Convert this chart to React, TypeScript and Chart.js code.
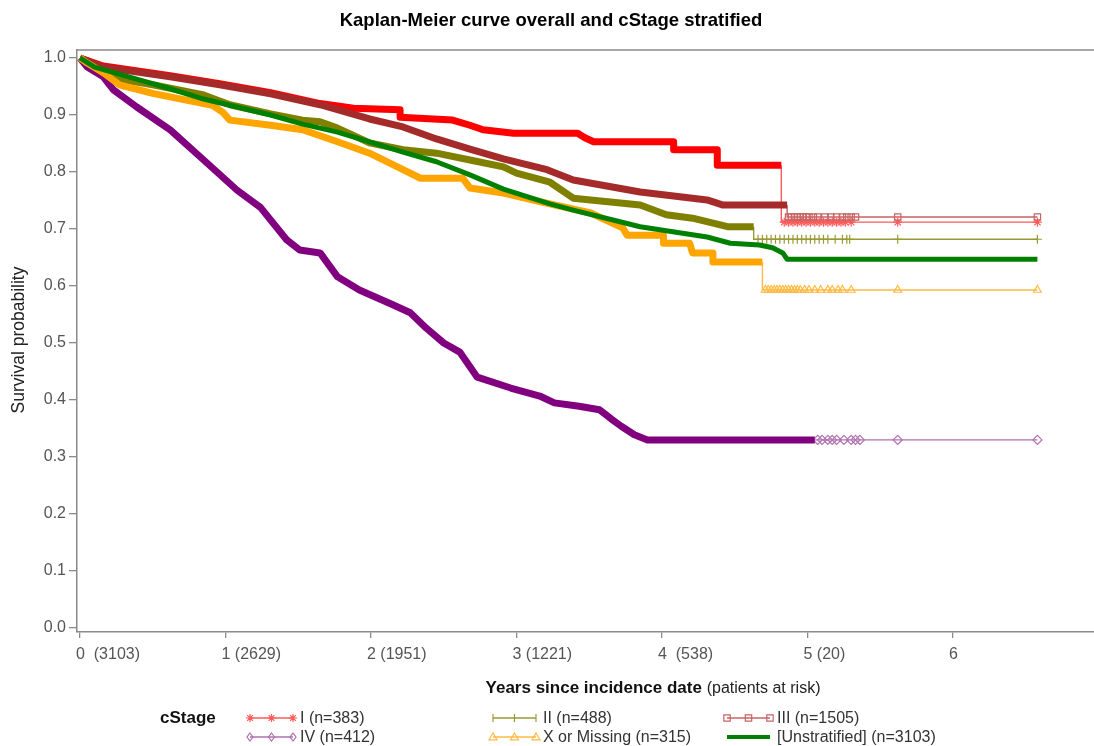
import React, { useEffect, useRef } from "react";
import { Chart, registerables } from "chart.js";

Chart.register(...registerables);

// ---------- text ----------
const chartTitle = "Kaplan-Meier curve overall and cStage stratified";
const yAxisTitle = "Survival probability";
const xAxisTitleMain = "Years since incidence date";
const xAxisTitleSub = "(patients at risk)";
const legendTitle = "cStage";

// ---------- ticks ----------
const xTickYears = [0, 1, 2, 3, 4, 5, 6, 7];
const xTickLabels = ["0  (3103)", "1 (2629)", "2 (1951)", "3 (1221)", "4  (538)", "5 (20)", "6", "7"];
const yTickValues = [0, 0.1, 0.2, 0.3, 0.4, 0.5, 0.6, 0.7, 0.8, 0.9, 1.0];

// ---------- series: cStage I ----------
const stageI_t = [0, 0.16, 0.62, 0.96, 1.31, 1.65, 1.88, 2.2, 2.2, 2.56, 2.68, 2.77, 2.98, 3.42, 3.47, 3.53, 4.08, 4.08, 4.38, 4.38, 4.82];
const stageI_s = [1.0, 0.986, 0.969, 0.955, 0.939, 0.92, 0.912, 0.909, 0.896, 0.891, 0.882, 0.874, 0.868, 0.868, 0.86, 0.853, 0.853, 0.839, 0.839, 0.812, 0.812];
const stageI_tailLevel = 0.712;
const stageI_censor = [4.84, 4.87, 4.9, 4.93, 4.96, 4.99, 5.02, 5.05, 5.08, 5.11, 5.14, 5.17, 5.2, 5.23, 5.26, 5.3, 5.62, 6.58];

// ---------- series: cStage II ----------
const stageII_t = [0, 0.1, 0.27, 0.5, 0.85, 1.03, 1.31, 1.53, 1.65, 1.77, 1.99, 2.22, 2.45, 2.68, 2.91, 3.0, 3.23, 3.39, 3.85, 4.03, 4.21, 4.45, 4.63];
const stageII_s = [1.0, 0.984, 0.963, 0.953, 0.935, 0.918, 0.902, 0.891, 0.888, 0.877, 0.851, 0.839, 0.833, 0.821, 0.809, 0.798, 0.782, 0.754, 0.742, 0.725, 0.719, 0.704, 0.704];
const stageII_tailLevel = 0.682;
const stageII_censor = [4.66, 4.69, 4.72, 4.75, 4.78, 4.81, 4.84, 4.87, 4.9, 4.93, 4.96, 4.99, 5.02, 5.05, 5.08, 5.11, 5.14, 5.19, 5.24, 5.27, 5.29, 5.62, 6.58];

// ---------- series: cStage III ----------
const stageIII_t = [0, 0.16, 0.62, 0.96, 1.31, 1.65, 1.99, 2.22, 2.45, 2.68, 2.91, 3.21, 3.39, 3.85, 4.31, 4.42, 4.86];
const stageIII_s = [1.0, 0.984, 0.967, 0.953, 0.937, 0.918, 0.893, 0.879, 0.858, 0.84, 0.823, 0.804, 0.786, 0.765, 0.751, 0.742, 0.742];
const stageIII_tailLevel = 0.721;
const stageIII_censor = [4.87, 4.89, 4.91, 4.93, 4.95, 4.97, 4.99, 5.01, 5.04, 5.07, 5.12, 5.16, 5.2, 5.24, 5.27, 5.3, 5.33, 5.62, 6.58];

// ---------- series: cStage IV ----------
const stageIV_t = [0, 0.05, 0.16, 0.23, 0.39, 0.62, 0.85, 1.08, 1.24, 1.42, 1.51, 1.65, 1.77, 1.92, 2.15, 2.27, 2.38, 2.5, 2.61, 2.73, 2.96, 3.16, 3.26, 3.43, 3.57, 3.65, 3.72, 3.81, 3.9, 5.05];
const stageIV_s = [1.0, 0.984, 0.967, 0.944, 0.914, 0.874, 0.821, 0.768, 0.738, 0.681, 0.663, 0.658, 0.616, 0.593, 0.567, 0.553, 0.526, 0.5, 0.484, 0.44, 0.421, 0.407, 0.395, 0.389, 0.383, 0.367, 0.354, 0.339, 0.33, 0.33];
const stageIV_tailLevel = 0.33;
const stageIV_censor = [5.07, 5.1, 5.14, 5.17, 5.2, 5.25, 5.3, 5.33, 5.36, 5.62, 6.58];

// ---------- series: X or Missing ----------
const stageX_t = [0, 0.05, 0.16, 0.27, 0.5, 0.73, 0.91, 0.98, 1.03, 1.31, 1.53, 1.77, 1.99, 2.22, 2.34, 2.63, 2.68, 2.91, 3.16, 3.51, 3.73, 3.76, 4.01, 4.01, 4.19, 4.21, 4.35, 4.35, 4.69];
const stageX_s = [1.0, 0.991, 0.974, 0.953, 0.938, 0.926, 0.917, 0.905, 0.891, 0.882, 0.874, 0.853, 0.833, 0.804, 0.789, 0.789, 0.772, 0.763, 0.748, 0.728, 0.702, 0.689, 0.689, 0.675, 0.675, 0.658, 0.658, 0.642, 0.642];
const stageX_tailLevel = 0.593;
const stageX_censor = [4.71, 4.73, 4.75, 4.77, 4.79, 4.81, 4.83, 4.85, 4.87, 4.89, 4.91, 4.93, 4.95, 4.98, 5.01, 5.05, 5.09, 5.14, 5.17, 5.21, 5.24, 5.3, 5.62, 6.58];

// ---------- series: unstratified ----------
const overall_t = [0, 0.1, 0.39, 0.62, 0.85, 1.08, 1.31, 1.53, 1.77, 1.99, 2.22, 2.45, 2.68, 2.91, 3.23, 3.39, 3.85, 4.31, 4.47, 4.67, 4.76, 4.83, 4.86, 6.58];
const overall_s = [1.0, 0.984, 0.963, 0.946, 0.928, 0.914, 0.9, 0.884, 0.87, 0.853, 0.835, 0.818, 0.795, 0.77, 0.744, 0.733, 0.704, 0.686, 0.675, 0.672, 0.667, 0.658, 0.647, 0.647];

// ---------- legend ----------
const legendLabels = ["I (n=383)", "IV (n=412)", "II (n=488)", "X or Missing (n=315)", "III (n=1505)", "[Unstratified] (n=3103)"];

const FONT = "'Liberation Sans', Arial, Helvetica, sans-serif";

type Strat = {
  t: number[];
  s: number[];
  tailLevel: number;
  censor: number[];
  band: string;
  thin: string;
  marker: string;
  order: number;
};

const strata: Strat[] = [
  { t: stageI_t, s: stageI_s, tailLevel: stageI_tailLevel, censor: stageI_censor, band: "#FF0000", thin: "#FF5A5A", marker: "star", order: 6 },
  { t: stageII_t, s: stageII_s, tailLevel: stageII_tailLevel, censor: stageII_censor, band: "#808000", thin: "#9A9A35", marker: "cross", order: 5 },
  { t: stageIII_t, s: stageIII_s, tailLevel: stageIII_tailLevel, censor: stageIII_censor, band: "#A52A2A", thin: "#C86464", marker: "rect", order: 4 },
  { t: stageIV_t, s: stageIV_s, tailLevel: stageIV_tailLevel, censor: stageIV_censor, band: "#800080", thin: "#B070B0", marker: "rectRot", order: 3 },
  { t: stageX_t, s: stageX_s, tailLevel: stageX_tailLevel, censor: stageX_censor, band: "#FFA500", thin: "#FFBA45", marker: "triangle", order: 2 },
];

function drawMarker(ctx: CanvasRenderingContext2D, style: string, x: number, y: number, r: number) {
  ctx.beginPath();
  if (style === "star") {
    for (let k = 0; k < 4; k++) {
      const a = (k * Math.PI) / 4;
      ctx.moveTo(x - Math.cos(a) * r, y - Math.sin(a) * r);
      ctx.lineTo(x + Math.cos(a) * r, y + Math.sin(a) * r);
    }
  } else if (style === "cross") {
    ctx.moveTo(x, y - r);
    ctx.lineTo(x, y + r);
  } else if (style === "rect") {
    ctx.rect(x - r * 0.8, y - r * 0.8, r * 1.6, r * 1.6);
  } else if (style === "rectRot") {
    ctx.moveTo(x, y - r);
    ctx.lineTo(x + r * 0.75, y);
    ctx.lineTo(x, y + r);
    ctx.lineTo(x - r * 0.75, y);
    ctx.closePath();
  } else if (style === "triangle") {
    ctx.moveTo(x, y - r);
    ctx.lineTo(x + r, y + r * 0.7);
    ctx.lineTo(x - r, y + r * 0.7);
    ctx.closePath();
  }
  ctx.stroke();
}

const decorPlugin = {
  id: "decor",
  afterDraw(chart: any) {
    const ctx: CanvasRenderingContext2D = chart.ctx;
    const area = chart.chartArea;
    const xs = chart.scales.x;
    ctx.save();
    // frame top
    ctx.strokeStyle = "#8a8a8a";
    ctx.lineWidth = 1.5;
    ctx.beginPath();
    ctx.moveTo(area.left, area.top);
    ctx.lineTo(area.right, area.top);
    ctx.stroke();

    // title
    ctx.fillStyle = "#000";
    ctx.font = `bold 18.5px ${FONT}`;
    ctx.textAlign = "center";
    ctx.textBaseline = "middle";
    ctx.fillText(chartTitle, 551, 21);

    // y title
    ctx.save();
    ctx.translate(19, 340);
    ctx.rotate(-Math.PI / 2);
    ctx.font = `17.5px ${FONT}`;
    ctx.fillStyle = "#222";
    ctx.fillText(yAxisTitle, 0, 0);
    ctx.restore();

    // x tick labels
    ctx.font = `16px ${FONT}`;
    ctx.fillStyle = "#555";
    ctx.textAlign = "left";
    ctx.textBaseline = "middle";
    xTickYears.forEach((v, i) => {
      const px = xs.getPixelForValue(v);
      ctx.fillText(xTickLabels[i], px - 4, 655);
    });

    // x title
    ctx.font = `bold 17px ${FONT}`;
    const w1 = ctx.measureText(xAxisTitleMain + " ").width;
    ctx.font = `16px ${FONT}`;
    const w2 = ctx.measureText(xAxisTitleSub).width;
    const startX = 653 - (w1 + w2) / 2;
    ctx.fillStyle = "#111";
    ctx.font = `bold 17px ${FONT}`;
    ctx.fillText(xAxisTitleMain, startX, 688);
    ctx.font = `16px ${FONT}`;
    ctx.fillStyle = "#222";
    ctx.fillText(xAxisTitleSub, startX + w1, 689);

    // legend
    ctx.font = `bold 17px ${FONT}`;
    ctx.fillStyle = "#111";
    ctx.fillText(legendTitle, 160, 718);
    const cols = [250, 493, 727];
    const rows = [718, 737];
    const legendItems = [
      { col: 0, row: 0, st: strata[0] },
      { col: 0, row: 1, st: strata[3] },
      { col: 1, row: 0, st: strata[1] },
      { col: 1, row: 1, st: strata[4] },
      { col: 2, row: 0, st: strata[2] },
      { col: 2, row: 1, st: null as Strat | null },
    ];
    legendItems.forEach((it, i) => {
      const x0 = cols[it.col];
      const y = rows[it.row];
      if (it.st) {
        ctx.strokeStyle = it.st.thin;
        ctx.lineWidth = 1.5;
        ctx.beginPath();
        ctx.moveTo(x0, y);
        ctx.lineTo(x0 + 43, y);
        ctx.stroke();
        ctx.lineWidth = 1.2;
        [x0, x0 + 21.5, x0 + 43].forEach((mx) => drawMarker(ctx, it.st!.marker, mx, y, 4));
      } else {
        ctx.strokeStyle = "#008000";
        ctx.lineWidth = 4;
        ctx.beginPath();
        ctx.moveTo(x0, y);
        ctx.lineTo(x0 + 43, y);
        ctx.stroke();
      }
      ctx.font = `16px ${FONT}`;
      ctx.fillStyle = "#333";
      ctx.fillText(legendLabels[i], x0 + 50, y + 1);
    });
    ctx.restore();
  },
};

export default function App() {
  const ref = useRef<HTMLCanvasElement | null>(null);

  useEffect(() => {
    if (!ref.current) return;
    const datasets: any[] = [];
    strata.forEach((st) => {
      datasets.push({
        type: "line",
        data: st.t.map((x, i) => ({ x, y: st.s[i] })),
        borderColor: st.band,
        borderWidth: 7,
        borderJoinStyle: "round",
        pointRadius: 0,
        fill: false,
        tension: 0,
        order: st.order,
      });
      const lastT = st.t[st.t.length - 1];
      const lastS = st.s[st.s.length - 1];
      datasets.push({
        type: "line",
        data: [{ x: lastT, y: lastS }, ...st.censor.map((x) => ({ x, y: st.tailLevel }))],
        borderColor: st.thin,
        borderWidth: 1.4,
        stepped: "after",
        pointStyle: st.marker,
        pointRadius: (c: any) => (c.dataIndex === 0 ? 0 : 4.5),
        pointBorderColor: st.thin,
        pointBackgroundColor: "rgba(0,0,0,0)",
        pointBorderWidth: 1.2,
        fill: false,
        order: st.order,
      });
    });
    datasets.push({
      type: "line",
      data: overall_t.map((x, i) => ({ x, y: overall_s[i] })),
      borderColor: "#008000",
      borderWidth: 5,
      borderJoinStyle: "round",
      pointRadius: 0,
      fill: false,
      tension: 0,
      order: 0,
    });

    const chart = new Chart(ref.current, {
      type: "line",
      data: { datasets },
      options: {
        animation: false,
        responsive: false,
        devicePixelRatio: 1,
        layout: { autoPadding: false, padding: { top: 50, left: 0, right: 0, bottom: 0 } },
        plugins: { legend: { display: false }, tooltip: { enabled: false }, title: { display: false } },
        scales: {
          x: {
            type: "linear",
            min: -0.0206,
            max: 6.969,
            afterBuildTicks: (s: any) => {
              s.ticks = xTickYears.map((v) => ({ value: v }));
            },
            afterFit: (s: any) => {
              s.height = 114;
            },
            ticks: { display: false },
            grid: { display: true, drawOnChartArea: false, drawTicks: true, tickLength: 6, color: "#8a8a8a", lineWidth: 1.3 },
            border: { display: true, color: "#8a8a8a", width: 1.5 },
          },
          y: {
            type: "linear",
            min: -0.007,
            max: 1.014,
            afterBuildTicks: (s: any) => {
              s.ticks = yTickValues.map((v) => ({ value: v }));
            },
            afterFit: (s: any) => {
              s.width = 77;
            },
            ticks: {
              font: { family: FONT, size: 16 },
              color: "#555",
              padding: 3,
              callback: (v: any) => Number(v).toFixed(1),
            },
            grid: { display: true, drawOnChartArea: false, drawTicks: true, tickLength: 8, color: "#8a8a8a", lineWidth: 1.3 },
            border: { display: true, color: "#8a8a8a", width: 1.5 },
          },
        },
      },
      plugins: [decorPlugin],
    });
    return () => chart.destroy();
  }, []);

  return (
    <div style={{ position: "absolute", left: 0, top: 0, width: 1094, height: 746, background: "#fff" }}>
      <canvas ref={ref} width={1094} height={746} style={{ display: "block", width: 1094, height: 746 }} />
    </div>
  );
}
